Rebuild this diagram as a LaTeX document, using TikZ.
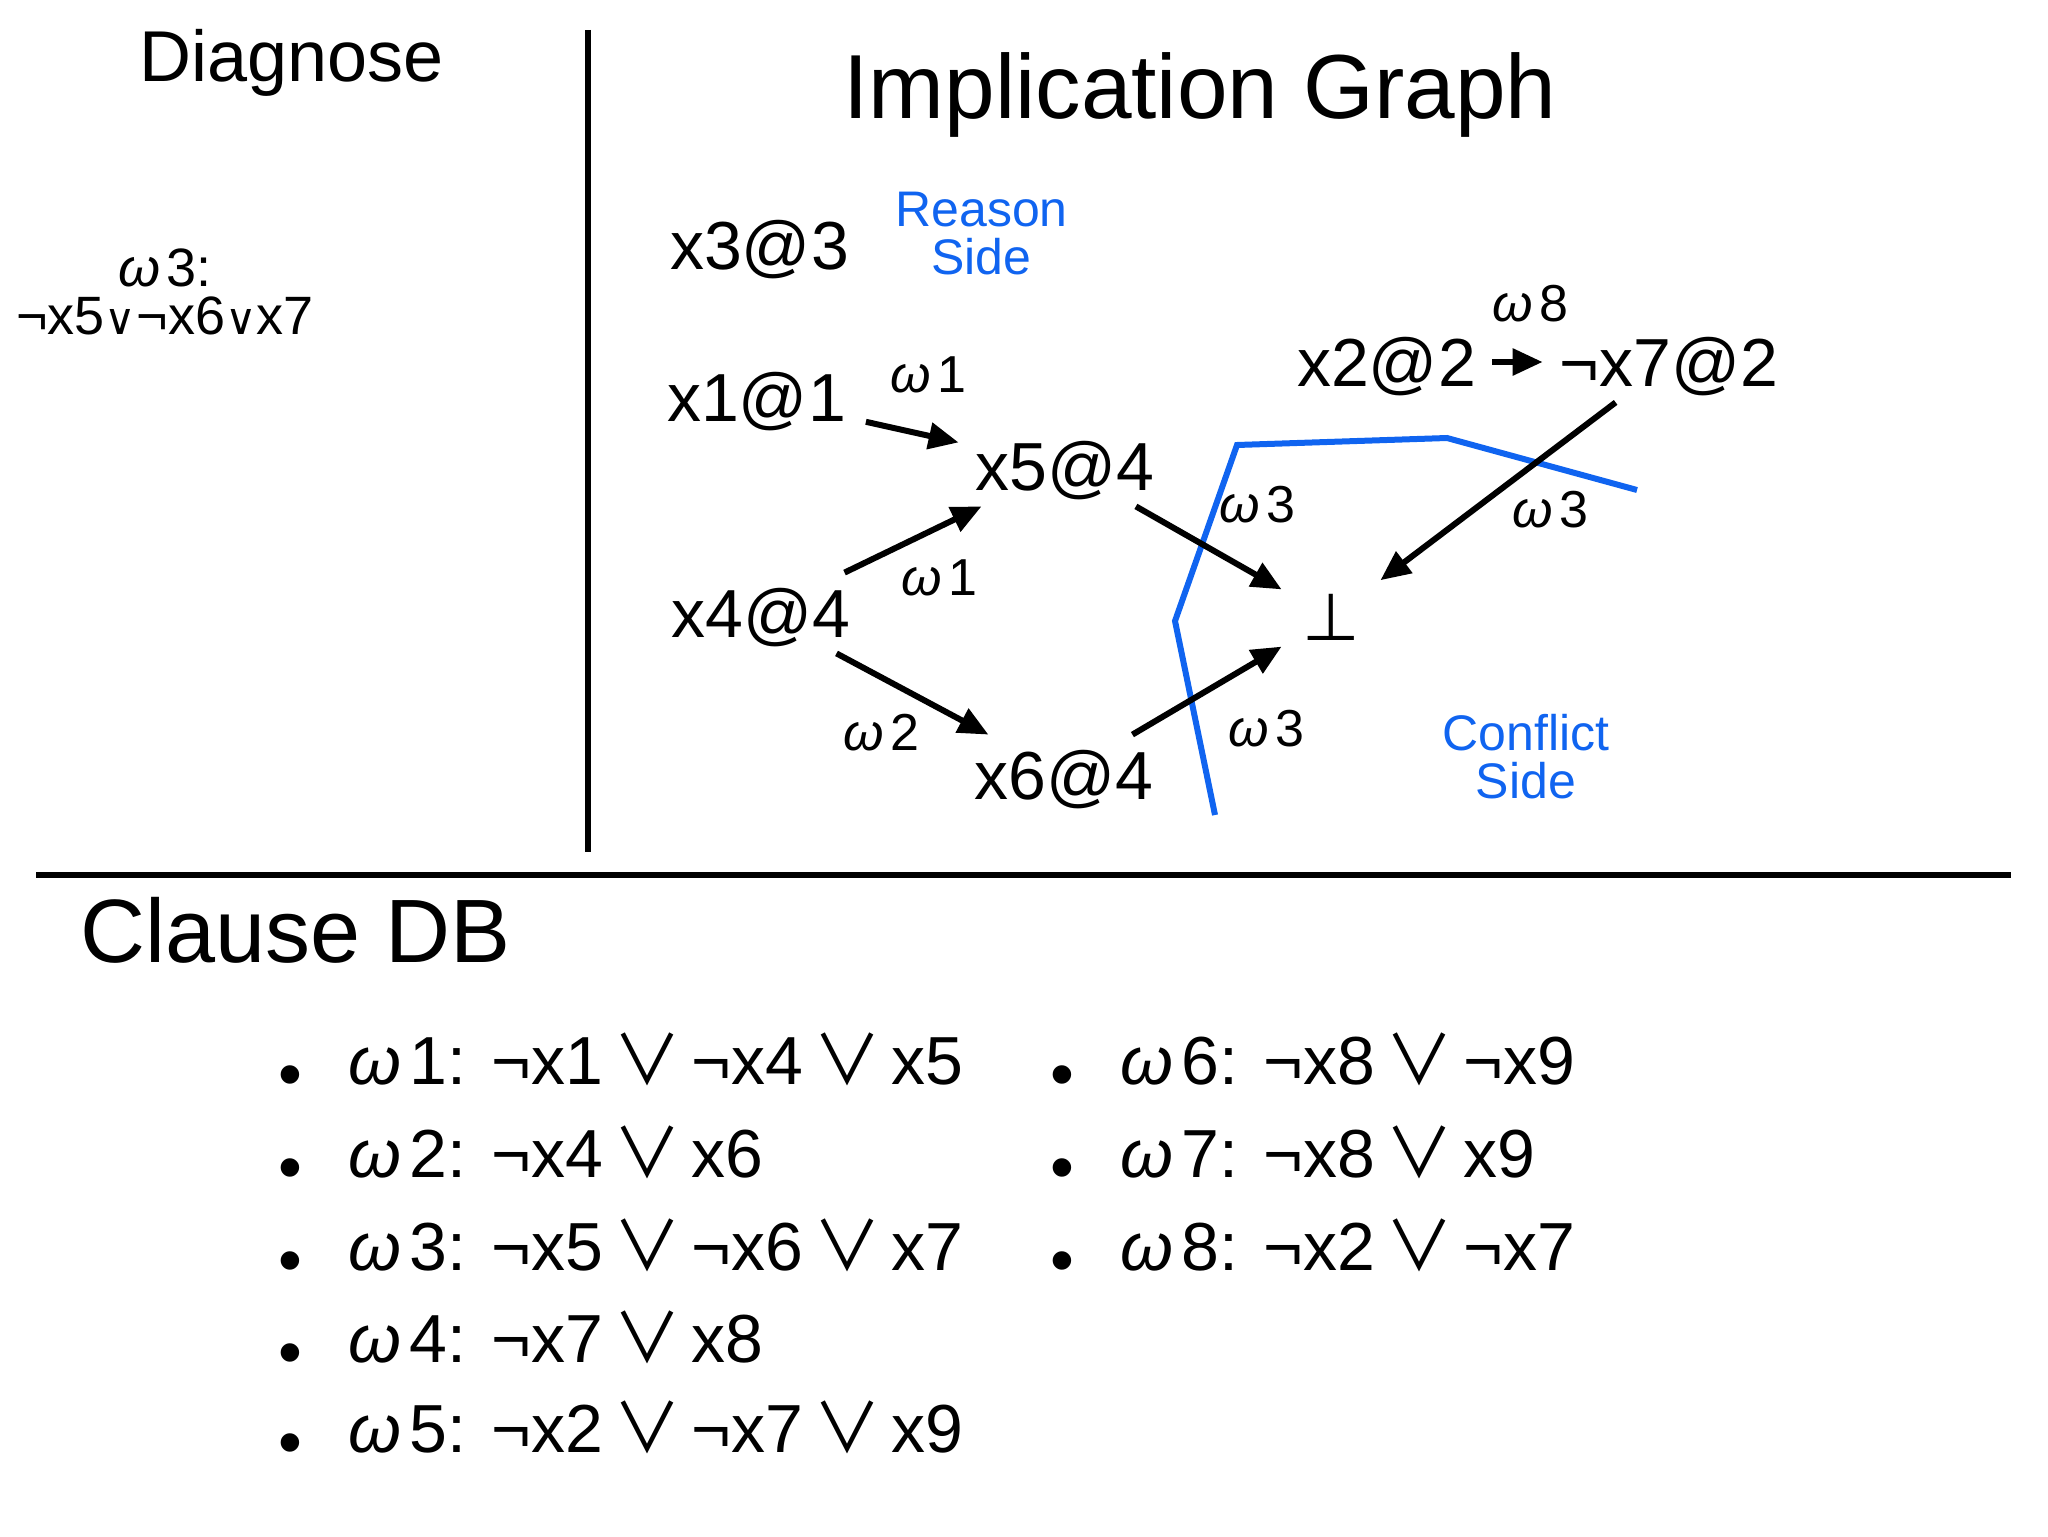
\documentclass[tikz,border=0pt]{standalone}
\usepackage{fontspec}
\usepackage{graphicx}
\setmainfont{Liberation Sans}
\newfontfamily\dvs{DejaVu Sans}
\newfontfamily\cjk{Noto Sans CJK JP}
\usetikzlibrary{arrows.meta}
\definecolor{cutblue}{RGB}{16,100,240}
\newcommand{\om}{{\itshape ω}\hspace{0.12em}}
\newcommand{\orr}{\hspace{0.15em}{\cjk ∨}\hspace{0.15em}}
\newcommand{\orrs}{{\dvs\fontsize{0.8em}{0.8em}\selectfont ∨}}
\newcommand{\fs}[1]{\fontsize{#1}{#1}\selectfont}
\newcommand{\bul}{\llap{\raisebox{-6.5pt}{•}\hspace{23pt}}}
\tikzset{
  var/.style={inner sep=0pt, minimum height=40pt, text height=24.35pt, text depth=0pt, font=\fs{34pt}},
  botnode/.style={inner sep=0pt, minimum width=49pt, minimum height=40pt, font=\dvs\fs{33pt}},
  wlab/.style={anchor=base west, inner sep=0pt, font=\fs{26pt}},
  side/.style={anchor=north, inner sep=0pt, align=center, text=cutblue, font=\fontsize{25pt}{24pt}\selectfont},
  heading/.style={inner sep=0pt, font=\fs{36pt}},
  clause/.style={anchor=base west, inner sep=0pt, font=\fs{34pt}},
  arr/.style={line width=3pt, -{Triangle[length=15pt,width=13pt]}},
  rule/.style={line width=3pt, black},
  cut/.style={line width=3pt, cutblue}
}
\begin{document}
\begin{tikzpicture}[x=0.5pt, y=-0.5pt]
\useasboundingbox (0,0) rectangle (2048,1536);
% separators
\draw[rule, line width=3.25pt] (588,30) -- (588,852);
\draw[rule, line width=2.6pt] (36,875) -- (2011,875);
% headings
\node[heading, anchor=base] (diag) at (291.5,82) {Diagnose};
\node[inner sep=0pt, anchor=north, align=center, font=\fontsize{27pt}{24pt}\selectfont] (diagc) at (165,248) {\om3:\\¬x5\orrs¬x6\orrs x7};
\node[inner sep=0pt, anchor=base, font=\fs{45.5pt}] (title) at (1200,119) {Implication Graph};
\node[inner sep=0pt, anchor=base west, font=\fs{45pt}] (cdb) at (80,962) {Clause DB};
% graph nodes
\node[var, minimum width=85.5pt] (x3) at (759.5,245) {x3@3};
\node[var, minimum width=109pt] (x1) at (756.5,397.5) {x1@1};
\node[var, minimum width=106pt] (x5) at (1065,466) {x5@4};
\node[var, minimum width=109pt] (x4) at (761,613) {x4@4};
\node[var, minimum width=106pt] (x6) at (1064,775) {x6@4};
\node[var, minimum width=105.5pt] (x2) at (1386.5,362) {x2@2};
\node[var, minimum width=126pt] (nx7) at (1669,362) {¬x7@2};
\node[botnode] (bot) at (1331,617.5) {⊥};
% sides
\node[side] (reason) at (981.5,192) {Reason\\Side};
\node[side] (conflict) at (1526,714) {Conflict\\Side};
% cut
\draw[cut] (1637,490) -- (1447,438) -- (1237,445) -- (1175,621) -- (1215,815);
% edges
\draw[arr] (x1) -- (x5);
\draw[arr] (x4) -- (x5);
\draw[arr] (x4) -- (x6);
\draw[arr] (x5) -- (bot);
\draw[arr] (x6) -- (bot);
\draw[arr] (x2) -- (nx7);
\draw[arr] (nx7) -- (bot);
% edge labels
\node[wlab] (w1a) at (890,392) {\om1};
\node[wlab] (w1b) at (901,595) {\om1};
\node[wlab] (w2) at (843,750) {\om2};
\node[wlab] (w3a) at (1219,522) {\om3};
\node[wlab] (w3b) at (1228,746) {\om3};
\node[wlab] (w8) at (1492,321) {\om8};
\node[wlab] (w3c) at (1512,527) {\om3};
% clause DB
\node[clause] (c1) at (348,1084) {\bul\om1: ¬x1\orr¬x4\orr x5};
\node[clause] (c2) at (348,1177) {\bul\om2: ¬x4\orr x6};
\node[clause] (c3) at (348,1270) {\bul\om3: ¬x5\orr¬x6\orr x7};
\node[clause] (c4) at (348,1362) {\bul\om4: ¬x7\orr x8};
\node[clause] (c5) at (348,1452) {\bul\om5: ¬x2\orr¬x7\orr x9};
\node[clause] (c6) at (1120,1084) {\bul\om6: ¬x8\orr¬x9};
\node[clause] (c7) at (1120,1177) {\bul\om7: ¬x8\orr x9};
\node[clause] (c8) at (1120,1270) {\bul\om8: ¬x2\orr¬x7};
\end{tikzpicture}
\end{document}
